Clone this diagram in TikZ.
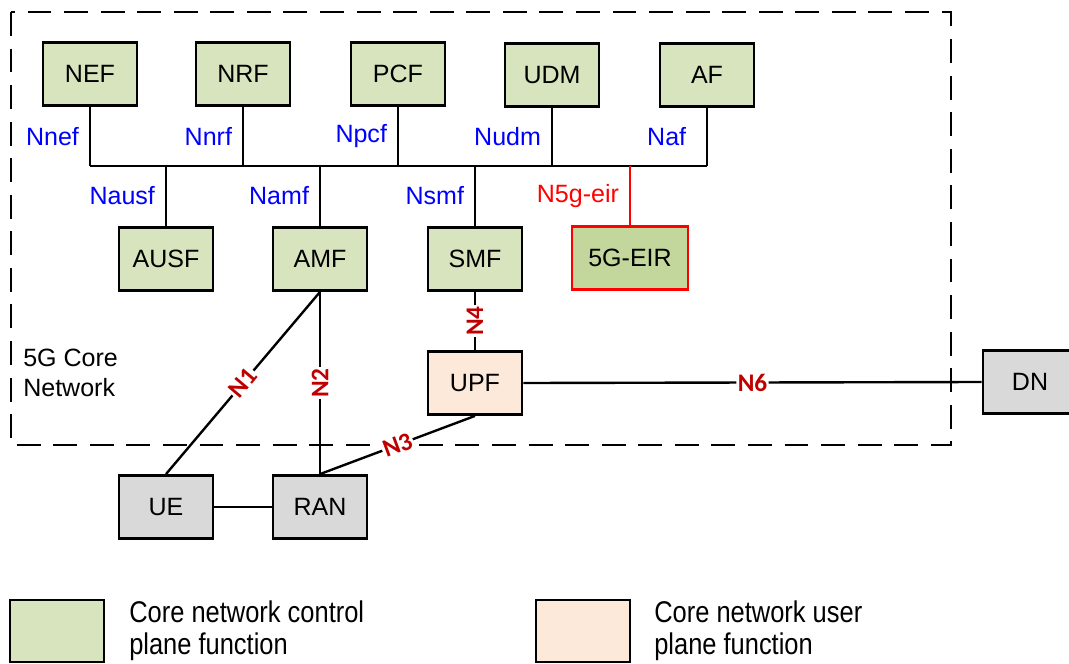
\documentclass[tikz,border=0pt]{standalone}
\usepackage{fontspec}
\setmainfont{Liberation Sans}
\newfontfamily\ifacefont{Carlito}
\newfontfamily\legendfont[FakeStretch=0.85]{Liberation Sans}
\usetikzlibrary{positioning}

\definecolor{cpgreen}{HTML}{D7E4BD}
\definecolor{eirgreen}{HTML}{C3D69B}
\definecolor{uppeach}{HTML}{FCE9DA}
\definecolor{extgray}{HTML}{D9D9D9}
\definecolor{ifred}{HTML}{C00000}

\tikzset{
  nf/.style={draw=black, line width=2pt, minimum width=2.35cm, minimum height=1.575cm,
    inner sep=0pt, font=\fontsize{17.8}{21.3}\selectfont},
  cpnf/.style={nf, fill=cpgreen},
  upnf/.style={nf, fill=uppeach},
  extnf/.style={nf, fill=extgray},
  sbi/.style={left=7pt, inner sep=0pt, text=blue, font=\fontsize{17.8}{21.3}\selectfont},
  refpt/.style={sloped, fill=white, inner sep=1pt, text=ifred,
    font=\ifacefont\bfseries\fontsize{18}{21}\selectfont},
  link/.style={line width=1.7pt}
}

\begin{document}
\begin{tikzpicture}[x=0.025cm, y=-0.025cm]
\useasboundingbox (0,0) rectangle (1069,663);
% 5G core boundary
\draw[line width=2pt, dash pattern=on 17pt off 9pt] (11,12) rectangle (951,445);
\node[anchor=west, align=left, inner sep=0pt, font=\fontsize{17.8}{21.3}\selectfont] (core) at (23,373) {5G Core\\Network};

% network functions
\node[cpnf] (nef) at (90,74) {NEF};
\node[cpnf] (nrf) at (243,74) {NRF};
\node[cpnf] (pcf) at (398,74) {PCF};
\node[cpnf] (udm) at (552,75) {UDM};
\node[cpnf] (af) at (707,75) {AF};
\node[cpnf] (ausf) at (166,259) {AUSF};
\node[cpnf] (amf) at (320,259) {AMF};
\node[cpnf] (smf) at (475,259) {SMF};
\node[nf, draw=red, fill=eirgreen, minimum width=2.9cm] (eir) at (630,258) {5G-EIR};
\node[upnf] (upf) at (475,383) {UPF};
\node[extnf] (dn) at (1030,382) {DN};
\node[extnf] (ue) at (166,507) {UE};
\node[extnf] (ran) at (320,507) {RAN};

% service bus
\coordinate (bnef) at (nef |- 0,166);
\coordinate (bnrf) at (nrf |- 0,166);
\coordinate (bpcf) at (pcf |- 0,166);
\coordinate (budm) at (udm |- 0,166);
\coordinate (baf) at (af |- 0,166);
\coordinate (bausf) at (ausf |- 0,166);
\coordinate (bamf) at (amf |- 0,166);
\coordinate (bsmf) at (smf |- 0,166);
\coordinate (beir) at (eir |- 0,166);
\draw[link] (bnef) -- (baf);
\draw[link] (nef) -- node[sbi] {Nnef} (bnef);
\draw[link] (nrf) -- node[sbi] {Nnrf} (bnrf);
\draw[link] (pcf) -- node[sbi] {Npcf} (bpcf);
\draw[link] (udm) -- node[sbi] {Nudm} (budm);
\draw[link] (af) -- node[sbi, left=14pt] {Naf} (baf);
\draw[link] (bausf) -- node[sbi] {Nausf} (ausf);
\draw[link] (bamf) -- node[sbi] {Namf} (amf);
\draw[link] (bsmf) -- node[sbi] {Nsmf} (smf);
\draw[link, red] (beir) -- node[sbi, text=red] {N5g-eir} (eir);

% reference points
\draw[link] (ue.north) -- node[refpt] {N1} (amf.south);
\draw[link] (ran.north) -- node[refpt] {N2} (amf.south);
\draw[link] (ran.north) -- node[refpt] {N3} (upf.south);
\draw[link] (upf.north) -- node[refpt] {N4} (smf.south);
\draw[link] (upf.east) -- node[refpt] {N6} (dn.west);
\draw[link] (ue) -- (ran);

% legend
\node[cpnf, minimum height=1.55cm] (legcp) at (57,631) {};
\node[anchor=west, align=left, inner sep=0pt, font=\legendfont\fontsize{21.3}{22.7}\selectfont] (legcptext) at (129,631) {Core network control\\plane function};
\node[upnf, minimum height=1.55cm] (legup) at (583,631) {};
\node[anchor=west, align=left, inner sep=0pt, font=\legendfont\fontsize{21.3}{22.7}\selectfont] (leguptext) at (654,631) {Core network user\\plane function};
\end{tikzpicture}
\end{document}
